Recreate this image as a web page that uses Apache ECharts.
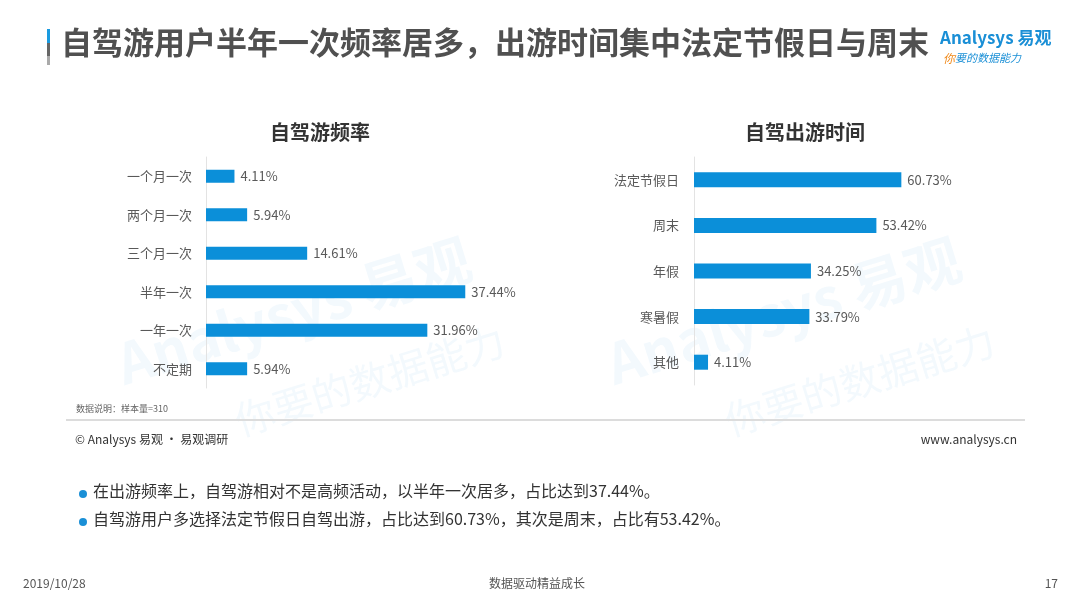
<!DOCTYPE html>
<html>
<head>
<meta charset="utf-8">
<script src="https://cdn.jsdelivr.net/npm/echarts@6/dist/echarts.min.js"></script>
<style>
  html, body { margin: 0; padding: 0; background: #fff; }
  #main { width: 1080px; height: 608px; }
</style>
</head>
<body>
<div id="main"></div>
<script>
// 自驾游频率
var freqCats = ['一个月一次', '两个月一次', '三个月一次', '半年一次', '一年一次', '不定期']
var freqVals = [4.11, 5.94, 14.61, 37.44, 31.96, 5.94]
// 自驾出游时间
var timeCats = ['法定节假日', '周末', '年假', '寒暑假', '其他']
var timeVals = [60.73, 53.42, 34.25, 33.79, 4.11]

var FONT = '"Noto Sans CJK SC", "Noto Sans", sans-serif'
var BLUE = '#0b8fd9'

var chart = echarts.init(document.getElementById('main'))

function catAxis(idx, cats, margin) {
    return {
        type: 'category',
        gridIndex: idx,
        data: cats,
        inverse: true,
        axisLine: { lineStyle: { color: '#e3e3e3', width: 1 } },
        axisTick: { show: false },
        axisLabel: { color: '#595959', fontSize: 13, fontFamily: FONT, margin: margin }
    }
}
function valAxis(idx, max) {
    return {
        type: 'value',
        gridIndex: idx,
        min: 0,
        max: max,
        show: false
    }
}
function barSeries(idx, vals, w) {
    return {
        type: 'bar',
        xAxisIndex: idx,
        yAxisIndex: idx,
        data: vals,
        barWidth: w,
        itemStyle: { color: BLUE },
        label: {
            show: true,
            position: 'right',
            distance: 6,
            color: '#595959',
            fontSize: 13,
            fontFamily: FONT,
            formatter: function (p) { return p.value.toFixed(2) + '%' }
        }
    }
}

var option = {
    backgroundColor: '#fff',
    animation: false,
    title: [
        {
            text: '自驾游频率', left: 315, top: 117, textAlign: 'center',
            textStyle: { fontSize: 20, fontWeight: 'bold', color: '#333', fontFamily: FONT }
        },
        {
            text: '自驾出游时间', left: 800, top: 117, textAlign: 'center',
            textStyle: { fontSize: 20, fontWeight: 'bold', color: '#333', fontFamily: FONT }
        }
    ],
    grid: [
        { left: 206, top: 157, width: 277, height: 231 },
        { left: 694, top: 157, width: 239, height: 228 }
    ],
    xAxis: [valAxis(0, 40), valAxis(1, 70)],
    yAxis: [catAxis(0, freqCats, 14), catAxis(1, timeCats, 15)],
    series: [barSeries(0, freqVals, 13), barSeries(1, timeVals, 15)],
    graphic: [
        // 水印
        { type: 'text', left: 110, top: 230, rotation: 0.3, z: -1,
          style: { text: 'Analysys 易观', fontSize: 56, fontWeight: 'bold', fill: 'rgba(11,143,217,0.05)', fontFamily: FONT } },
        { type: 'text', left: 230, top: 320, rotation: 0.3, z: -1,
          style: { text: '你要的数据能力', fontSize: 40, fill: 'rgba(11,143,217,0.05)', fontFamily: FONT } },
        { type: 'text', left: 600, top: 230, rotation: 0.3, z: -1,
          style: { text: 'Analysys 易观', fontSize: 56, fontWeight: 'bold', fill: 'rgba(11,143,217,0.05)', fontFamily: FONT } },
        { type: 'text', left: 720, top: 320, rotation: 0.3, z: -1,
          style: { text: '你要的数据能力', fontSize: 40, fill: 'rgba(11,143,217,0.05)', fontFamily: FONT } },

        // 标题左侧色条
        { type: 'rect', shape: { x: 47, y: 29, width: 3, height: 14 }, style: { fill: '#1a9be0' } },
        { type: 'rect', shape: { x: 47, y: 43, width: 3, height: 13 }, style: { fill: '#666' } },
        { type: 'rect', shape: { x: 47, y: 56, width: 3, height: 9 }, style: { fill: '#aaa' } },
        { type: 'text', left: 61, top: 27,
          style: { text: '自驾游用户半年一次频率居多，出游时间集中法定节假日与周末', fontSize: 31, fontWeight: 'bold', fill: '#505050', fontFamily: FONT } },

        // logo
        { type: 'text', left: 940, top: 29, z: 10,
          style: { text: 'Analysys 易观', fontSize: 17, fontWeight: 'bold', fill: '#1a8fd6', fontFamily: FONT } },
        { type: 'text', left: 943, top: 52, z: 10,
          style: { rich: { a: { fontSize: 12, fill: '#f08a1c', fontStyle: 'italic', fontFamily: FONT }, b: { fontSize: 11, fill: '#1a8fd6', fontStyle: 'italic', fontFamily: FONT } },
                   text: '{a|你}{b|要的数据能力}' } },

        // 数据说明与分隔线
        { type: 'text', left: 76, top: 404,
          style: { text: '数据说明：样本量=310', fontSize: 9, fill: '#666', fontFamily: FONT } },
        { type: 'line', shape: { x1: 66, y1: 420, x2: 1025, y2: 420 }, style: { stroke: '#dcdcdc', lineWidth: 2 } },
        { type: 'text', left: 75, top: 433,
          style: { text: '© Analysys 易观 · 易观调研', fontSize: 12, fill: '#333', fontFamily: FONT } },
        { type: 'text', right: 63, top: 433,
          style: { text: 'www.analysys.cn', fontSize: 12, fill: '#333', fontFamily: FONT } },

        // 结论
        { type: 'circle', shape: { cx: 83, cy: 494, r: 4 }, style: { fill: '#1a8fd6' } },
        { type: 'text', left: 93, top: 483,
          style: { text: '在出游频率上，自驾游相对不是高频活动，以半年一次居多，占比达到37.44%。', fontSize: 16, fill: '#333', fontFamily: FONT } },
        { type: 'circle', shape: { cx: 83, cy: 522, r: 4 }, style: { fill: '#1a8fd6' } },
        { type: 'text', left: 93, top: 511,
          style: { text: '自驾游用户多选择法定节假日自驾出游，占比达到60.73%，其次是周末，占比有53.42%。', fontSize: 16, fill: '#333', fontFamily: FONT } },

        // 页脚
        { type: 'text', left: 23, top: 577,
          style: { text: '2019/10/28', fontSize: 12, fill: '#555', fontFamily: FONT } },
        { type: 'text', left: 489, top: 577,
          style: { text: '数据驱动精益成长', fontSize: 12, fill: '#555', fontFamily: FONT } },
        { type: 'text', right: 22, top: 577,
          style: { text: '17', fontSize: 12, fill: '#555', fontFamily: FONT } }
    ]
}

chart.setOption(option)
</script>
</body>
</html>
